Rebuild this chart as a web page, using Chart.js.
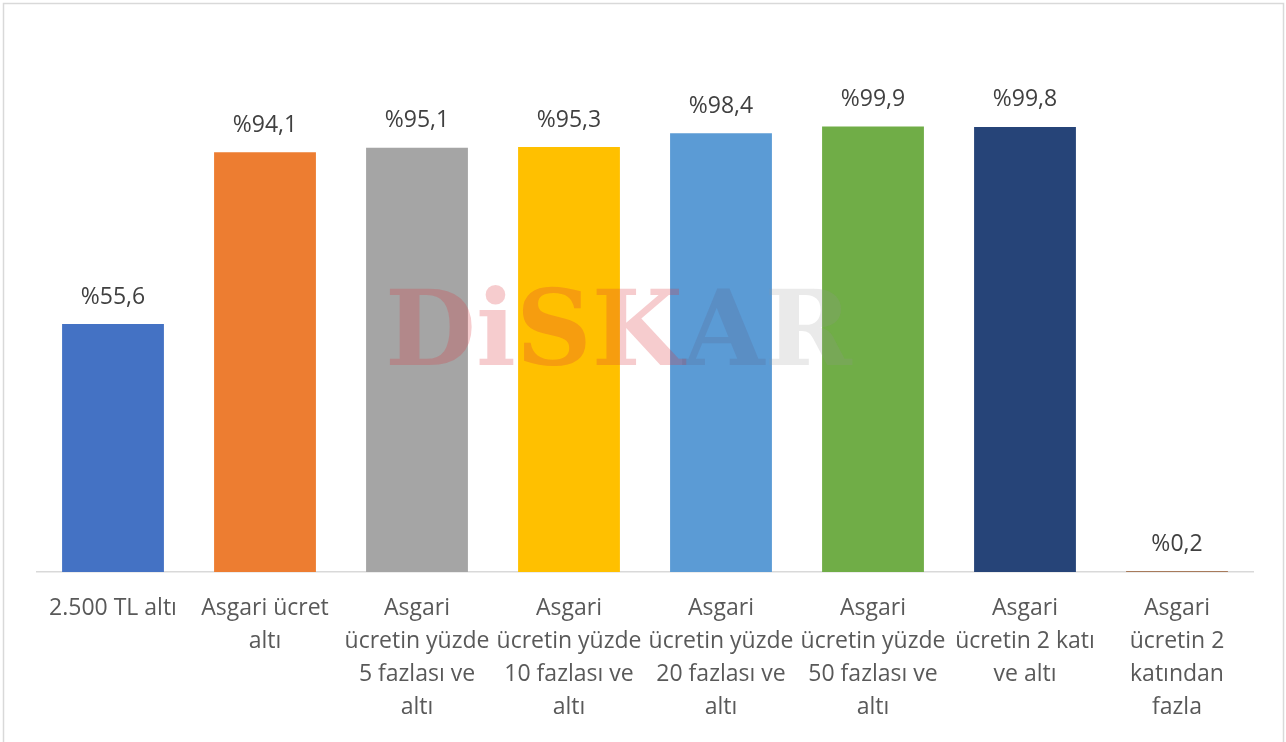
<!DOCTYPE html>
<html>
<head>
    <title>Asgari ücret dağılımı</title>
    <script src="https://cdn.jsdelivr.net/npm/chart.js"></script>
    <style>
        body { margin: 0; background: #fff; }
    </style>
</head>
<body>
    <canvas id="wageChart" width="1286" height="742"></canvas>

    <script>
    // Data
    const categories = [
        ['2.500 TL altı'],
        ['Asgari ücret', 'altı'],
        ['Asgari', 'ücretin yüzde', '5 fazlası ve', 'altı'],
        ['Asgari', 'ücretin yüzde', '10 fazlası ve', 'altı'],
        ['Asgari', 'ücretin yüzde', '20 fazlası ve', 'altı'],
        ['Asgari', 'ücretin yüzde', '50 fazlası ve', 'altı'],
        ['Asgari', 'ücretin 2 katı', 've altı'],
        ['Asgari', 'ücretin 2', 'katından', 'fazla']
    ];
    const shares = [55.6, 94.1, 95.1, 95.3, 98.4, 99.9, 99.8, 0.2];
    const barColors = ['#4472C4', '#ED7D31', '#A5A5A5', '#FFC000', '#5B9BD5', '#70AD47', '#264478', '#A87B5C'];

    const fontFamily = '"Open Sans", "Noto Sans", sans-serif';

    // value labels like %55,6
    const valueLabels = {
        id: 'valueLabels',
        afterDatasetsDraw(chart) {
            const ctx = chart.ctx;
            const meta = chart.getDatasetMeta(0);
            ctx.save();
            ctx.font = '23px ' + fontFamily;
            ctx.fillStyle = '#404040';
            ctx.textAlign = 'center';
            ctx.textBaseline = 'middle';
            meta.data.forEach((bar, i) => {
                const txt = '%' + shares[i].toFixed(1).replace('.', ',');
                ctx.fillText(txt, bar.x, bar.y - 27);
            });
            ctx.restore();
        }
    };

    // faded DiSKAR watermark + outer frame
    const decorations = {
        id: 'decorations',
        afterDatasetsDraw(chart) {
            const ctx = chart.ctx;
            ctx.save();
            ctx.font = 'bold 100px "DejaVu Serif", serif';
            ctx.textBaseline = 'middle';
            const letters = [
                ['D', 'rgba(220, 50, 60, 0.25)'],
                ['i', 'rgba(220, 50, 60, 0.25)'],
                ['S', 'rgba(220, 50, 60, 0.25)'],
                ['K', 'rgba(220, 50, 60, 0.25)'],
                ['A', 'rgba(90, 90, 130, 0.2)'],
                ['R', 'rgba(150, 150, 150, 0.2)']
            ];
            const total = letters.reduce((s, l) => s + ctx.measureText(l[0]).width, 0);
            const scale = 465 / total;
            ctx.font = 'bold ' + Math.round(100 * scale) + 'px "DejaVu Serif", serif';
            let x = 385;
            letters.forEach(l => {
                ctx.fillStyle = l[1];
                ctx.fillText(l[0], x, 338);
                x += ctx.measureText(l[0]).width;
            });
            ctx.strokeStyle = '#D9D9D9';
            ctx.lineWidth = 1.5;
            ctx.strokeRect(3.5, 3.5, 1280, 760);
            ctx.restore();
        }
    };

    new Chart(document.getElementById('wageChart').getContext('2d'), {
        type: 'bar',
        data: {
            labels: categories,
            datasets: [{
                data: shares,
                backgroundColor: barColors,
                categoryPercentage: 1,
                barPercentage: 0.67
            }]
        },
        options: {
            responsive: false,
            animation: false,
            layout: {
                padding: { left: 37, right: 33, top: 126, bottom: 0 }
            },
            plugins: {
                legend: { display: false },
                tooltip: { enabled: false }
            },
            scales: {
                x: {
                    grid: { display: false },
                    border: { display: true, color: '#D9D9D9', width: 1.5 },
                    afterFit(scale) { scale.height = 170; },
                    ticks: {
                        autoSkip: false,
                        maxRotation: 0,
                        padding: 12,
                        color: '#595959',
                        font: { family: fontFamily, size: 23, lineHeight: 1.435 }
                    }
                },
                y: {
                    display: false,
                    min: 0,
                    max: 100
                }
            }
        },
        plugins: [valueLabels, decorations]
    });
    </script>
</body>
</html>
